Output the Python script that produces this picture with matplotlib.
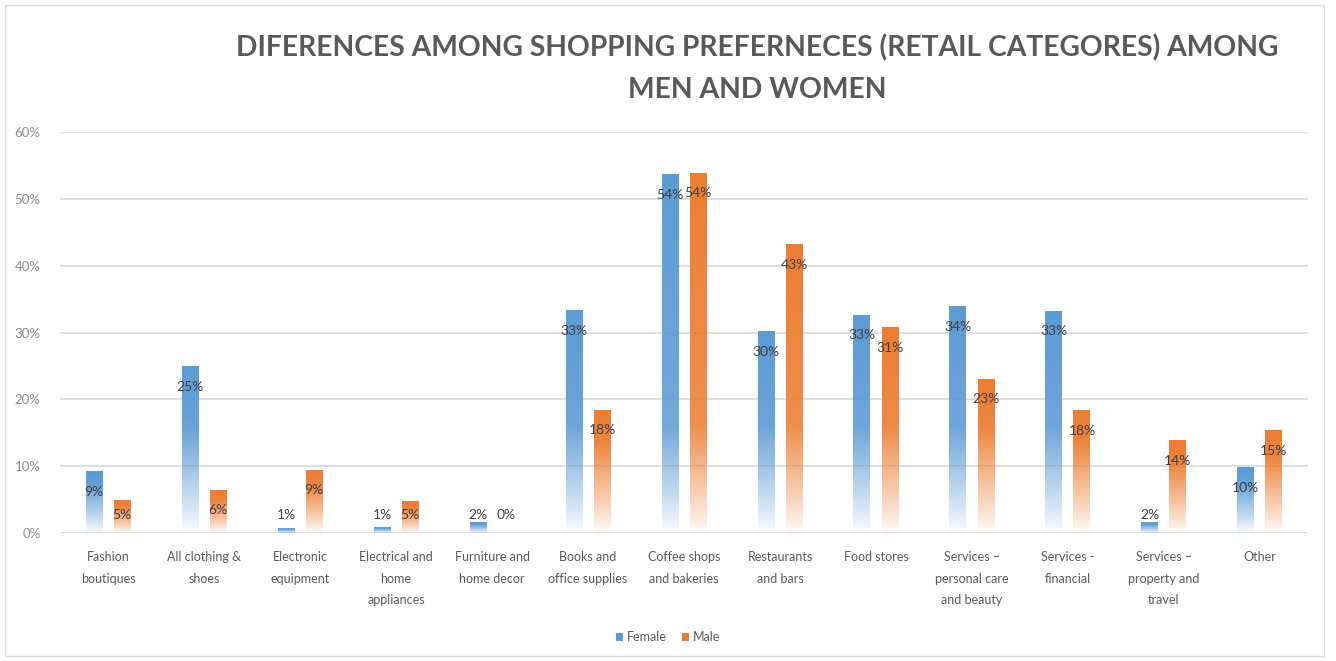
import numpy as np
import matplotlib.pyplot as plt
from matplotlib.patches import Patch, Rectangle

plt.rcParams['font.family'] = ['Lato', 'DejaVu Sans']

categories = ["Fashion\nboutiques", "All clothing &\nshoes", "Electronic\nequipment",
              "Electrical and\nhome\nappliances", "Furniture and\nhome decor",
              "Books and\noffice supplies", "Coffee shops\nand bakeries",
              "Restaurants\nand bars", "Food stores", "Services –\npersonal care\nand beauty",
              "Services -\nfinancial", "Services –\nproperty and\ntravel", "Other"]
female = [9.2, 24.9, 0.7, 0.8, 1.6, 33.3, 53.6, 30.1, 32.6, 33.9, 33.2, 1.5, 9.8]
male = [4.9, 6.4, 9.4, 4.7, 0.0, 18.4, 53.8, 43.1, 30.7, 23.0, 18.3, 13.8, 15.3]
yticks = [0, 10, 20, 30, 40, 50, 60]

blue = np.array([0x5b, 0x9b, 0xd5]) / 255
orange = np.array([0xed, 0x7d, 0x31]) / 255

fig = plt.figure(figsize=(13.36, 6.61), dpi=100)
fig.patches.append(Rectangle((0.004, 0.008), 0.987, 0.984, transform=fig.transFigure,
                             fill=False, edgecolor='#d9d9d9', lw=1))
ax = fig.add_axes([0.045, 0.1936, 0.934, 0.6067])

x = np.arange(len(categories))
w = 0.177
off = 0.146


def gradient_bar(xc, v, color):
    # solid at the top, fading out towards the baseline
    if v <= 0:
        return
    n = 200
    y = np.linspace(0, v, n)
    fade = min(16.0, 0.75 * v)
    s = np.clip(y / fade, 0, 1) ** 0.8 * (0.8 + 0.2 * y / v)
    img = np.ones((n, 1, 4))
    img[:, 0, :3] = color
    img[:, 0, 3] = s
    ax.imshow(img, extent=[xc - w / 2, xc + w / 2, 0, v], origin='lower',
              aspect='auto', interpolation='bilinear', zorder=2)


for i in range(len(categories)):
    for v, xc, c in [(female[i], x[i] - off, blue), (male[i], x[i] + off, orange)]:
        gradient_bar(xc, v, c)
        ax.text(xc, max(v - 3.0, 2.7), f"{v:.0f}%", ha='center', va='center',
                fontsize=10, color='#404040', zorder=3)

ax.set_xlim(-0.5, len(categories) - 0.5)
ax.set_ylim(0, 60)
ax.set_yticks(yticks)
ax.set_yticklabels([f"{t}%" for t in yticks], fontsize=9.5, color='#8c8c8c')
ax.set_xticks(x)
ax.set_xticklabels(categories, fontsize=9, color='#595959', linespacing=1.95)
ax.tick_params(length=0, pad=14)
ax.tick_params(axis='x', pad=13)
ax.grid(axis='y', color='#d9d9d9', lw=1.2)
ax.set_axisbelow(True)
for sp in ax.spines.values():
    sp.set_visible(False)
ax.axhline(0, color='#d9d9d9', lw=1.2, zorder=1)

fig.text(0.567, 0.8956, "DIFERENCES AMONG SHOPPING PREFERNECES (RETAIL CATEGORES) AMONG\nMEN AND WOMEN",
         ha='center', va='center', fontsize=20.3, fontweight='bold', color='#595959',
         linespacing=1.74)

handles = [Patch(facecolor=blue, label='Female'), Patch(facecolor=orange, label='Male')]
fig.legend(handles=handles, loc='center', bbox_to_anchor=(0.5, 0.036), ncol=2, frameon=False,
           fontsize=9, handlelength=0.6, handleheight=0.6, handletextpad=0.3,
           columnspacing=1.2, labelcolor='#595959')

fig.savefig('out.png', dpi=100)
